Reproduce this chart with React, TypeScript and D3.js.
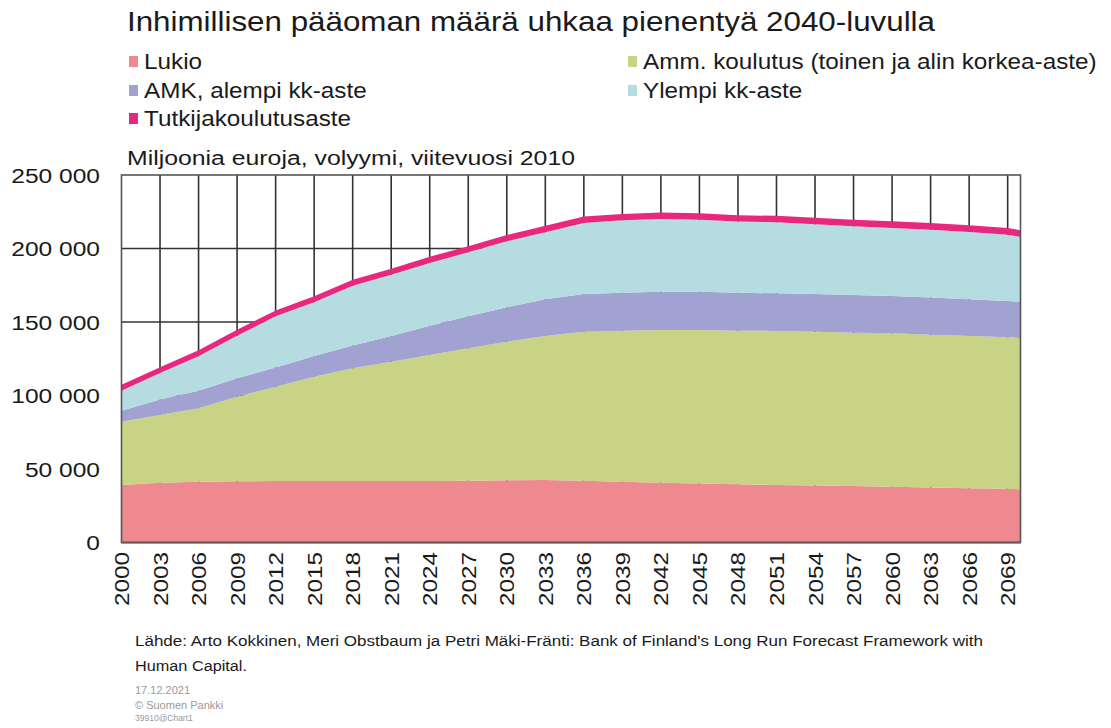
import React from "react";
import * as d3 from "d3";

const years = [2000, 2003, 2006, 2009, 2012, 2015, 2018, 2021, 2024, 2027, 2030, 2033, 2036, 2039, 2042, 2045, 2048, 2051, 2054, 2057, 2060, 2063, 2066, 2069, 2070];

const lukio = [39.1, 40.7, 41.4, 41.6, 41.8, 41.8, 41.8, 41.8, 41.8, 42.0, 42.3, 42.5, 42.0, 41.4, 40.7, 40.2, 39.6, 39.1, 38.7, 38.4, 38.0, 37.5, 36.9, 36.5, 36.2];
const amm = [43.1, 46.0, 49.9, 57.6, 64.2, 71.0, 76.7, 81.2, 85.8, 90.1, 94.3, 98.0, 101.4, 102.7, 103.9, 104.4, 104.5, 104.8, 104.7, 104.3, 104.3, 103.9, 103.6, 103.1, 102.7];
const amk = [7.5, 10.5, 12.0, 12.5, 13.0, 14.0, 15.5, 17.5, 19.8, 21.8, 23.5, 25.0, 25.6, 25.8, 26.0, 26.0, 25.8, 25.6, 25.6, 25.6, 25.4, 25.3, 24.9, 24.7, 24.7];
const ylempi = [13.6, 18.1, 23.4, 29.0, 34.9, 36.6, 40.7, 41.7, 42.8, 43.5, 44.8, 45.6, 48.4, 49.3, 49.5, 49.0, 48.4, 48.3, 47.5, 46.8, 46.3, 46.1, 45.9, 45.1, 44.3];
const tutki = [4.0, 4.0, 4.0, 4.0, 4.0, 4.1, 4.1, 4.1, 4.2, 4.2, 4.2, 4.3, 4.3, 4.3, 4.4, 4.4, 4.4, 4.4, 4.4, 4.5, 4.5, 4.5, 4.5, 4.5, 4.5];

const seriesKeys = ["lukio", "amm", "amk", "ylempi", "tutki"];
const seriesLabels = ["Lukio", "Amm. koulutus (toinen ja alin korkea-aste)", "AMK, alempi kk-aste", "Ylempi kk-aste", "Tutkijakoulutusaste"];
const seriesColors = ["#ee8a8f", "#c8d385", "#a1a2d1", "#b5dde1", "#e8287e"];
const seriesValues = [lukio, amm, amk, ylempi, tutki];

const yTicks = [0, 50000, 100000, 150000, 200000, 250000];
const yTickLabels = ["0", "50 000", "100 000", "150 000", "200 000", "250 000"];
const xTickYears = d3.range(2000, 2070, 3);

const titleText = "Inhimillisen pääoman määrä uhkaa pienentyä 2040-luvulla";
const subtitleText = "Miljoonia euroja, volyymi, viitevuosi 2010";
const sourceLine1 = "Lähde: Arto Kokkinen, Meri Obstbaum ja Petri Mäki-Fränti: Bank of Finland's  Long Run Forecast Framework with";
const sourceLine2 = "Human Capital.";
const footerLines = ["17.12.2021", "© Suomen Pankki", "39910@Chart1"];

const FONT = "'Liberation Sans', Arial, sans-serif";
const SX = 1.13;

export default function App() {
  const W = 1111, H = 728;
  const left = 121.5, right = 1020.5, top = 175, bottom = 542.5;

  const x = d3.scaleLinear().domain([2000, 2070]).range([left, right]);
  const y = d3.scaleLinear().domain([0, 250000]).range([bottom, top]);

  const table = years.map((yr, i) => {
    const row: any = { year: yr };
    seriesKeys.forEach((k, j) => (row[k] = seriesValues[j][i] * 1000));
    return row;
  });
  const stacked = d3.stack().keys(seriesKeys)(table as any);
  const area = d3
    .area<any>()
    .x((d) => x(d.data.year))
    .y0((d) => y(d[0]))
    .y1((d) => y(d[1]));

  const legendPos = [
    { x: 129, y: 62 },
    { x: 628, y: 62 },
    { x: 129, y: 91 },
    { x: 628, y: 91 },
    { x: 129, y: 119 },
  ];

  return (
    <svg width={W} height={H} style={{ position: "absolute", left: 0, top: 0, background: "#fff" }} fontFamily={FONT}>
      <rect width={W} height={H} fill="#fff" />
      <text x={127} y={31} fontSize={28} fill="#1a1a1a" textLength={808} lengthAdjust="spacingAndGlyphs">
        {titleText}
      </text>

      {seriesLabels.map((lab, i) => (
        <g key={lab}>
          <rect x={legendPos[i].x} y={legendPos[i].y - 6} width={9} height={11} fill={seriesColors[i]} />
          <text
            transform={`translate(${legendPos[i].x + 15},${legendPos[i].y + 7}) scale(${SX},1)`}
            fontSize={21.5}
            fill="#1a1a1a"
          >
            {lab}
          </text>
        </g>
      ))}

      <text x={127} y={165} fontSize={19.5} fill="#1a1a1a" textLength={448} lengthAdjust="spacingAndGlyphs">
        {subtitleText}
      </text>

      {/* grid */}
      {yTicks.slice(1, -1).map((t) => (
        <line key={t} x1={left} x2={right} y1={y(t)} y2={y(t)} stroke="#333" strokeWidth={1.6} />
      ))}
      {xTickYears.slice(1).map((yr) => (
        <line key={yr} x1={x(yr)} x2={x(yr)} y1={top} y2={bottom} stroke="#333" strokeWidth={1.6} />
      ))}

      {/* areas */}
      {stacked.map((s, i) => (
        <path key={s.key} d={area(s as any) || ""} fill={seriesColors[i]} />
      ))}

      {/* frame */}
      <rect x={left} y={top} width={right - left} height={bottom - top} fill="none" stroke="#555" strokeWidth={1.6} />
      <line x1={left} x2={right} y1={bottom} y2={bottom} stroke="#6a5a5a" strokeWidth={2} />

      {/* y labels */}
      {yTicks.map((t, i) => (
        <text
          key={t}
          transform={`translate(100,${y(t) + 7.5}) scale(${SX + 0.04},1)`}
          textAnchor="end"
          fontSize={21}
          fill="#1a1a1a"
        >
          {yTickLabels[i]}
        </text>
      ))}

      {/* x labels */}
      {xTickYears.map((yr) => (
        <text
          key={yr}
          transform={`translate(${x(yr) + 7.5},552) rotate(-90)`}
          textAnchor="end"
          fontSize={21}
          fill="#1a1a1a"
          textLength={54}
          lengthAdjust="spacingAndGlyphs"
        >
          {String(yr)}
        </text>
      ))}

      {/* footer */}
      <text x={135} y={646} fontSize={14} fill="#1a1a1a" textLength={848} lengthAdjust="spacingAndGlyphs">
        {sourceLine1}
      </text>
      <text x={135} y={671} fontSize={14} fill="#1a1a1a" textLength={112} lengthAdjust="spacingAndGlyphs">
        {sourceLine2}
      </text>
      <text x={135} y={694} fontSize={11} fill="#9a9a9a">{footerLines[0]}</text>
      <text x={135} y={709} fontSize={11} fill="#9a9a9a">{footerLines[1]}</text>
      <text x={135} y={721} fontSize={8.5} fill="#9a9a9a">{footerLines[2]}</text>
    </svg>
  );
}
